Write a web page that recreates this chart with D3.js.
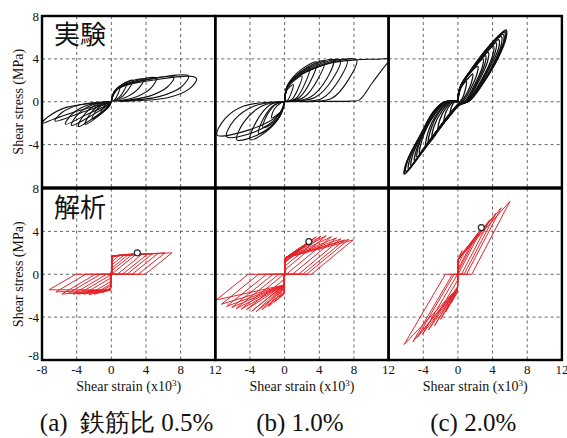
<!DOCTYPE html>
<html>
<head>
<meta charset="utf-8">
<title>Shear stress - shear strain</title>
<style>
  body { margin: 0; background: #fff; }
  svg text { font-family: "Liberation Serif", "Times New Roman", serif; fill: #111; }
  .jp { font-family: "Noto Sans CJK JP", "Liberation Serif", sans-serif; }
</style>
</head>
<body>
<script src="https://d3js.org/d3.v7.min.js"></script>
<script>
// axes
var xTicksFirst = [-8, -4, 0, 4, 8, 12];
var xTicksRest = [-4, 0, 4, 8, 12];
var yTicksTop = [8, 4, 0, -4];
var yTicksBottom = [8, 4, 0, -4, -8];
var gridX = [-4, 0, 4, 8];
var gridY = [-4, 0, 4];
var captions = ["(a)  鉄筋比 0.5%", "(b) 1.0%", "(c) 2.0%"];
var rowLabels = ["実験", "解析"];

// experiment, 0.5% : leaves [strain, stress]
var expA = [
  [[0,0],[0.2,0.6],[0.6,1.1],[1.0,1.35],[0.8,0.8],[0.4,0.2],[0,0]],
  [[0,0],[0.3,0.8],[0.9,1.4],[1.8,1.75],[1.5,1.1],[0.9,0.4],[0.2,0.05]],
  [[0,0],[0.3,0.9],[1.2,1.6],[2.5,2.0],[2.1,1.3],[1.3,0.5],[0.3,0.05]],
  [[0,0],[0.4,1.0],[1.8,1.8],[3.7,2.1],[3.2,1.3],[1.9,0.5],[0.4,0.05]],
  [[0,0.1],[0.5,1.1],[2.6,1.9],[5.2,2.2],[4.6,1.3],[3.0,0.5],[0.6,0.05]],
  [[0,0.1],[0.6,1.2],[3.6,2.0],[7.2,2.3],[6.5,1.4],[4.3,0.5],[0.8,0.05]],
  [[0,0.1],[0.7,1.2],[4.5,2.1],[8.9,2.4],[8.1,1.4],[5.6,0.5],[1.0,0.05]],
  [[0,0.1],[0.8,1.2],[5.5,2.1],[9.4,2.35],[9.85,2.1],[9.0,1.2],[6.6,0.4],[1.2,0.05]],
  [[0,0],[-0.2,-0.4],[-0.7,-0.8],[-1.2,-1.0],[-1.0,-0.6],[-0.5,-0.1],[0,0]],
  [[0,0],[-0.3,-0.4],[-1.0,-1.0],[-2.2,-1.6],[-1.9,-1.0],[-1.1,-0.3],[-0.2,0]],
  [[0,0],[-0.3,-0.4],[-1.3,-1.2],[-3.0,-2.1],[-2.6,-1.3],[-1.5,-0.4],[-0.2,0]],
  [[0,0],[-0.4,-0.4],[-1.7,-1.3],[-3.8,-2.3],[-3.3,-1.4],[-2.0,-0.4],[-0.3,0]],
  [[0,0],[-0.4,-0.3],[-2.1,-1.2],[-4.6,-2.2],[-4.0,-1.3],[-2.5,-0.4],[-0.3,0]],
  [[0,0],[-0.5,-0.3],[-2.6,-1.1],[-5.3,-2.1],[-4.6,-1.2],[-3.0,-0.4],[-0.4,0]],
  [[0,0],[-0.6,-0.2],[-3.1,-0.9],[-6.5,-1.8],[-5.7,-1.0],[-3.7,-0.3],[-0.5,0]],
  [[0,0],[-0.8,-0.2],[-3.6,-0.8],[-6.6,-1.6],[-8.0,-2.0],[-7.3,-1.4],[-5.1,-0.5],[-1.5,-0.1],[0,0]]
];

// experiment, 1.0%
var expB = [
  [[0,0],[0.2,1.0],[0.6,1.4],[1.0,1.6],[0.8,0.9],[0.3,0.1],[0,0]],
  [[0,0],[0.3,1.3],[1.0,1.9],[2.0,2.4],[1.6,1.3],[0.8,0.2],[0,0]],
  [[0,0],[0.3,1.4],[1.4,2.5],[2.9,3.2],[2.4,1.8],[1.3,0.3],[0.1,0]],
  [[0,0],[0.3,1.5],[1.9,3.0],[3.7,3.7],[3.1,2.1],[1.7,0.4],[0.2,0]],
  [[0,0],[0.4,1.5],[2.4,3.1],[4.6,3.8],[3.9,2.2],[2.2,0.4],[0.3,0.05]],
  [[0,0],[0.4,1.5],[2.9,3.2],[5.6,3.9],[4.9,2.2],[2.9,0.4],[0.4,0.05]],
  [[0,0],[0.4,1.6],[3.4,3.3],[6.4,3.9],[5.6,2.2],[3.5,0.4],[0.5,0.05]],
  [[0,0],[0.5,1.6],[3.8,3.3],[7.2,3.9],[6.4,2.2],[4.3,0.3],[0.6,0.05]],
  [[0,0],[0.5,1.6],[4.4,3.4],[8.3,3.9],[7.4,2.1],[5.4,0.3],[0.8,0.05]],
  [[0,0],[0.5,1.7],[4.8,3.5],[8.3,3.92],[10.5,3.97],[12.6,4.05],[12.3,3.95],[11.65,3.4],[10.1,1.75],[8.6,0.15],[7.6,0.06],[4.0,0.03],[0,0]],
  [[0,0],[-0.3,-0.8],[-1.0,-1.3],[-1.5,-1.5],[-1.2,-0.7],[-0.4,-0.1],[0,0]],
  [[0,0],[-0.4,-1.1],[-1.4,-2.0],[-2.5,-2.4],[-2.0,-1.2],[-0.9,-0.2],[0,0]],
  [[0,0],[-0.5,-1.3],[-1.8,-2.5],[-3.0,-2.95],[-2.4,-1.5],[-1.2,-0.3],[0,0]],
  [[0,0],[-0.6,-1.4],[-2.3,-2.9],[-4.0,-3.55],[-3.3,-1.9],[-1.7,-0.3],[-0.1,0]],
  [[0,0],[-0.6,-1.4],[-2.9,-3.0],[-5.5,-3.55],[-4.7,-1.9],[-2.6,-0.4],[-0.2,0]],
  [[0,0],[-0.7,-1.3],[-3.4,-2.8],[-6.7,-3.25],[-5.8,-1.7],[-3.5,-0.4],[-0.3,0]],
  [[0,0],[-0.7,-1.2],[-4.0,-2.6],[-7.8,-3.1],[-6.9,-1.6],[-4.7,-0.4],[-0.5,0]]
];

// experiment, 2.0% : full cycles
var expC = [
  [[0,0],[0.1,0.8],[0.5,1.5],[1.0,1.9],[0.9,1.3],[0.5,0.3],[0.1,-0.1],[-0.3,-0.5],[-0.9,-1.1],[-0.7,-0.4],[-0.3,0.05],[0,0]],
  [[0,0],[0.1,0.9],[0.6,1.7],[1.2,2.2],[1.7,2.6],[1.6,1.9],[0.9,0.6],[0.4,0],[-0.1,-0.4],[-0.7,-1.0],[-1.6,-1.9],[-1.4,-1.0],[-0.8,-0.2],[-0.2,0.1],[0,0]],
  [[0,0],[0.1,0.9],[0.5,1.7],[1.3,2.6],[2.3,3.3],[2.2,2.6],[1.4,1.1],[0.6,0.05],[0,-0.3],[-0.8,-1.0],[-1.6,-1.9],[-2.3,-2.7],[-2.1,-1.7],[-1.3,-0.5],[-0.4,0.1],[0,0]],
  [[0,0],[0.1,0.9],[0.4,1.6],[1.5,2.8],[2.9,4.0],[2.8,3.2],[1.8,1.4],[0.8,0.05],[0,-0.3],[-0.8,-1.0],[-2.0,-2.3],[-3.0,-3.5],[-2.8,-2.4],[-1.8,-0.8],[-0.6,0.1],[0,0]],
  [[0,0],[0.15,1.0],[0.5,1.7],[1.7,3.0],[3.2,4.3],[3.1,3.5],[2.0,1.5],[0.9,0.05],[0.1,-0.3],[-0.7,-1.0],[-2.1,-2.5],[-3.4,-3.9],[-3.2,-2.8],[-2.1,-0.9],[-0.8,0.05],[0,0]],
  [[0,0],[0.1,0.9],[0.4,1.6],[1.7,3.1],[3.5,4.6],[3.4,3.7],[2.2,1.6],[1.0,0.05],[0.1,-0.3],[-0.8,-1.0],[-2.3,-2.6],[-3.7,-4.2],[-3.5,-3.0],[-2.3,-1.0],[-0.9,0.05],[0,0]],
  [[0,0],[0.1,0.9],[0.4,1.6],[1.8,3.2],[3.2,4.5],[4.1,5.2],[4.0,4.3],[2.7,2.0],[1.1,0.05],[0.1,-0.3],[-0.8,-1.0],[-2.5,-2.8],[-4.4,-4.9],[-4.2,-3.7],[-2.8,-1.3],[-1.2,0.0],[0,0]],
  [[0,0],[0.15,1.0],[0.5,1.7],[1.9,3.3],[3.3,4.6],[4.4,5.5],[4.3,4.6],[2.9,2.2],[1.1,0.05],[0.1,-0.3],[-0.8,-1.0],[-2.6,-2.9],[-4.7,-5.2],[-4.5,-4.0],[-3.1,-1.6],[-1.3,0.0],[0,0]],
  [[0,0],[0.1,0.9],[0.4,1.6],[1.8,3.2],[3.4,4.8],[4.7,5.8],[4.7,5.0],[3.3,2.6],[1.8,0.6],[1.0,0],[0.1,-0.3],[-0.8,-1.1],[-2.6,-2.9],[-4.0,-4.4],[-5.0,-5.6],[-4.8,-4.5],[-3.6,-2.4],[-2.2,-0.6],[-1.3,0.0],[0,0]],
  [[0,0],[0.15,1.0],[0.5,1.8],[1.9,3.3],[3.4,4.9],[5.0,6.1],[5.0,5.3],[3.7,2.9],[2.0,0.7],[1.1,0],[0.2,-0.3],[-0.8,-1.1],[-2.7,-3.0],[-4.2,-4.7],[-5.4,-6.0],[-5.2,-4.9],[-3.9,-2.7],[-2.4,-0.7],[-1.4,0],[0,0]],
  [[0,0],[0.1,0.9],[0.4,1.6],[1.7,3.2],[3.3,4.9],[4.5,5.9],[5.2,6.3],[5.3,5.7],[4.1,3.4],[2.6,1.4],[1.2,0.05],[0.2,-0.3],[-0.8,-1.1],[-2.6,-2.9],[-4.4,-4.9],[-5.7,-6.3],[-5.5,-5.2],[-4.2,-3.0],[-2.7,-0.9],[-1.5,-0.05],[0,0]],
  [[0,0],[0.1,0.9],[0.4,1.6],[1.8,3.3],[3.3,4.9],[4.5,6.0],[5.5,6.6],[5.5,6.0],[4.3,3.6],[2.8,1.6],[1.3,0.05],[0.3,-0.2],[-0.2,-0.5],[-0.9,-1.2],[-2.6,-3.0],[-4.5,-5.1],[-6.1,-6.7],[-5.9,-5.6],[-4.4,-3.2],[-2.9,-1.0],[-1.7,-0.05],[-0.5,0.1],[0,0]],
  [[0,0],[0.1,0.9],[0.4,1.6],[1.7,3.2],[3.2,4.8],[4.4,5.9],[5.55,6.7],[5.6,6.1],[4.4,3.7],[2.85,1.8],[1.3,0.1],[0.4,-0.1],[-0.1,-0.4],[-0.8,-1.1],[-2.55,-2.9],[-4.45,-5.0],[-6.2,-6.75],[-6.0,-5.8],[-4.45,-3.3],[-2.9,-1.1],[-1.75,-0.1],[-0.5,0.1],[0,0]],
  [[0,0],[0.2,1.0],[0.5,1.7],[1.9,3.3],[3.4,4.9],[4.6,6.0],[5.4,6.5],[5.4,5.9],[4.2,3.5],[2.7,1.5],[1.2,0.05],[0.3,-0.2],[-0.7,-1.1],[-2.5,-2.9],[-4.3,-4.9],[-6.0,-6.5],[-5.8,-5.5],[-4.3,-3.1],[-2.8,-0.9],[-1.6,-0.05],[0,0]]
];

// analysis: [peak strain, peak stress, strain and stress where the unloading line ends]
var anaAPos = [[0.5,1.75,0.1,1.5],[1.0,1.8,0.1,1.2],[1.5,1.8,0.1,0.9],[2.0,1.85,0.1,0.6],[2.5,1.9,0.1,0.35],[3.0,1.95,0.1,0.05],
               [3.6,1.9,0.7,0],[4.2,1.9,1.3,0],[4.8,1.95,1.8,0],[5.4,1.95,2.4,0],[6.2,2.0,3.1,0],[7.0,2.0,3.9,0]];
var anaANeg = [[-0.5,-1.5,-0.1,-1.3],[-1.0,-1.7,-0.1,-1.27],[-1.5,-1.75,-0.1,-1.08],[-2.0,-1.85,-0.1,-0.94],[-2.6,-1.9,-0.1,-0.7],[-3.2,-1.85,-0.1,-0.36],
               [-3.8,-1.85,-0.1,-0.07],[-4.4,-1.85,-0.55,0],[-5.0,-1.8,-1.25,0],[-5.7,-1.85,-1.85,0],[-6.4,-1.65,-2.95,0],[-7.2,-1.45,-4.1,0]];
var anaBPos = [[0.6,1.8,0.05,1.43],[1.2,2.1,0.05,1.36],[1.7,2.45,0.05,1.35],[2.3,2.75,0.05,1.25],[2.8,3.0,0.05,1.16],[3.3,3.3,0.05,1.12],
               [3.65,3.5,0.05,1.09],[4.2,3.55,0.05,0.77],[4.8,3.6,0.05,0.42],[5.4,3.5,0.2,0],[6.0,3.4,0.9,0],[6.5,3.3,1.6,0],
               [6.9,3.2,2.1,0],[7.4,3.25,2.55,0],[7.9,3.2,3.1,0]];
var anaBNeg = [[-0.6,-2.1,-0.05,-1.74],[-1.2,-2.6,-0.05,-1.85],[-1.9,-3.0,-0.05,-1.8],[-2.6,-3.3,-0.05,-1.64],[-3.3,-3.5,-0.05,-1.39],
               [-3.8,-3.45,-0.05,-1.0],[-4.4,-3.3,-0.05,-0.47],[-5.0,-3.25,-0.1,0],[-5.6,-3.2,-0.67,0],[-6.1,-3.1,-1.33,0],
               [-6.7,-3.0,-2.08,0],[-7.3,-2.8,-3.0,0],[-7.9,-2.4,-4.2,0]];
var anaCPos = [[0.5,2.2,0.05,1.5],[1.1,2.6,0.05,0.97],[1.7,3.1,0.05,0.54],[2.3,3.8,0.05,0.31],[3.0,4.6,0.05,0.03],
               [3.7,5.1,0.41,0],[4.4,5.7,0.72,0],[5.0,6.2,1.0,0],[6.0,6.8,1.6,0]];
var anaCNeg = [[-0.8,-2.7,-0.05,-1.66],[-1.4,-3.5,-0.05,-1.64],[-2.0,-4.2,-0.05,-1.51],[-2.7,-4.8,-0.05,-1.14],[-3.4,-5.2,-0.05,-0.58],
               [-4.1,-5.6,-0.05,0],[-4.7,-5.9,-0.42,0],[-5.2,-6.3,-0.63,0],[-6.2,-6.55,-1.45,0]];
// cracking step at the origin [strain, stress]
var anaKnees = [[[0.1,1.7],[-0.1,-1.45]], [[0.05,1.5],[-0.05,-1.0]], [[0.05,1.4],[-0.05,-1.3]]];
// open circles
var markers = [[3.0,2.0],[2.8,3.05],[2.7,4.35]];

// layout
var W = 567, H = 438;
var left = 42, pw = 173.3;
var rows = [[16, 187.5], [188.5, 360]];

var svg = d3.select("body").append("svg")
    .attr("width", W)
    .attr("height", H);

// each analysis peak gives one loop: origin -> step -> peak -> unloading end -> origin
function anaLoops(pos, neg, knees) {
    var loops = [];
    pos.forEach(function(d) { loops.push([[0,0], knees[0], [d[0],d[1]], [d[2],d[3]], [d[2],0], [0,0]]); });
    neg.forEach(function(d) { loops.push([[0,0], knees[1], [d[0],d[1]], [d[2],d[3]], [d[2],0], [0,0]]); });
    return loops;
}

var red = "#e3262b";
var panels = [
    {col:0, row:0, loops:expA, color:"#111", width:1.1, curve:d3.curveCatmullRom.alpha(0.5)},
    {col:1, row:0, loops:expB, color:"#111", width:1.1, curve:d3.curveCatmullRom.alpha(0.5)},
    {col:2, row:0, loops:expC, color:"#111", width:1.3, curve:d3.curveCatmullRom.alpha(0.5)},
    {col:0, row:1, loops:anaLoops(anaAPos, anaANeg, anaKnees[0]), color:red, width:1, curve:d3.curveLinear, mark:markers[0]},
    {col:1, row:1, loops:anaLoops(anaBPos, anaBNeg, anaKnees[1]), color:red, width:1, curve:d3.curveLinear, mark:markers[1]},
    {col:2, row:1, loops:anaLoops(anaCPos, anaCNeg, anaKnees[2]), color:red, width:1, curve:d3.curveLinear, mark:markers[2]}
];

panels.forEach(function(p, i) {
    var x = d3.scaleLinear().domain([-8, 12]).range([left + p.col * pw, left + (p.col + 1) * pw]);
    var y = d3.scaleLinear().domain([-8, 8]).range([rows[p.row][1], rows[p.row][0]]);
    var g = svg.append("g");

    g.append("clipPath").attr("id", "clip" + i)
      .append("rect")
        .attr("x", x(-8)).attr("y", y(8))
        .attr("width", x(12) - x(-8)).attr("height", y(-8) - y(8));

    // dashed grid
    g.selectAll("line.gx").data(gridX).enter().append("line")
        .attr("x1", function(d) { return x(d); }).attr("x2", function(d) { return x(d); })
        .attr("y1", y(8)).attr("y2", y(-8))
        .style("stroke", "#666").style("stroke-width", 1).style("stroke-dasharray", "3,3");
    g.selectAll("line.gy").data(gridY).enter().append("line")
        .attr("x1", x(-8)).attr("x2", x(12))
        .attr("y1", function(d) { return y(d); }).attr("y2", function(d) { return y(d); })
        .style("stroke", "#666").style("stroke-width", 1).style("stroke-dasharray", "3,3");

    var line = d3.line()
        .x(function(d) { return x(d[0]); })
        .y(function(d) { return y(d[1]); })
        .curve(p.curve);

    g.append("g").attr("clip-path", "url(#clip" + i + ")")
      .selectAll("path").data(p.loops).enter().append("path")
        .attr("d", line)
        .style("fill", "none")
        .style("stroke", p.color)
        .style("stroke-width", p.width)
        .style("stroke-linejoin", "round");

    if (p.mark) {
        g.append("circle")
            .attr("cx", x(p.mark[0])).attr("cy", y(p.mark[1])).attr("r", 3)
            .style("fill", "#fff").style("stroke", "#222").style("stroke-width", 1.2);
    }

    // frame
    g.append("rect")
        .attr("x", x(-8)).attr("y", y(8))
        .attr("width", x(12) - x(-8)).attr("height", y(-8) - y(8))
        .style("fill", "none").style("stroke", "#000").style("stroke-width", 2.4);

    // y tick labels (the bottom -8 sits a little higher, clear of the x label)
    if (p.col == 0) {
        g.selectAll("text.yt").data(p.row == 0 ? yTicksTop : yTicksBottom).enter().append("text")
            .attr("x", 39).attr("y", function(d) { return d == -8 ? y(d) - 5 : y(d); })
            .attr("dy", "0.35em")
            .attr("text-anchor", "end")
            .style("font-size", "13px")
            .text(function(d) { return d; });
        svg.append("text")
            .attr("transform", "translate(18," + ((rows[p.row][0] + rows[p.row][1]) / 2) + ") rotate(-90)")
            .attr("text-anchor", "middle")
            .attr("dy", "0.35em")
            .style("font-size", "14px")
            .text("Shear stress (MPa)");
        svg.append("text")
            .attr("class", "jp")
            .attr("x", 54).attr("y", y(6.2))
            .attr("dy", "0.35em")
            .style("font-size", "26px")
            .text(rowLabels[p.row]);
    }

    // x tick labels and titles on the bottom row
    if (p.row == 1) {
        g.selectAll("text.xt").data(p.col == 0 ? xTicksFirst : xTicksRest).enter().append("text")
            .attr("x", function(d) { return x(d); })
            .attr("y", 374)
            .attr("text-anchor", "middle")
            .style("font-size", "13px")
            .text(function(d) { return d; });
        var t = svg.append("text")
            .attr("x", x(2)).attr("y", 391)
            .attr("text-anchor", "middle")
            .style("font-size", "14px");
        t.append("tspan").text("Shear strain (x10");
        t.append("tspan").attr("dy", -5).style("font-size", "9px").text("3");
        t.append("tspan").attr("dy", 5).text(")");
        svg.append("text")
            .attr("x", x(2) - 2).attr("y", 431)
            .attr("text-anchor", "middle")
            .style("font-size", "25px")
            .style("white-space", "pre")
            .text(captions[p.col]);
    }
});
</script>
</body>
</html>
